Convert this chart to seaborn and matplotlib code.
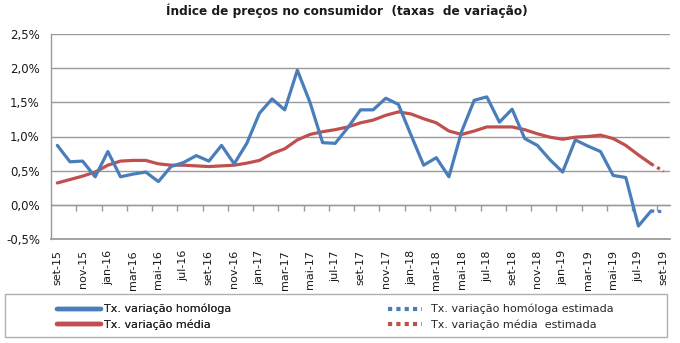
import matplotlib
matplotlib.use("Agg")
import matplotlib.pyplot as plt
import matplotlib.ticker as mticker
from matplotlib.lines import Line2D
from matplotlib.patches import Rectangle
import seaborn as sns
import pandas as pd
import numpy as np

# ---------------- data ----------------
months = ["set-15", "out-15", "nov-15", "dez-15",
          "jan-16", "fev-16", "mar-16", "abr-16", "mai-16", "jun-16",
          "jul-16", "ago-16", "set-16", "out-16", "nov-16", "dez-16",
          "jan-17", "fev-17", "mar-17", "abr-17", "mai-17", "jun-17",
          "jul-17", "ago-17", "set-17", "out-17", "nov-17", "dez-17",
          "jan-18", "fev-18", "mar-18", "abr-18", "mai-18", "jun-18",
          "jul-18", "ago-18", "set-18", "out-18", "nov-18", "dez-18",
          "jan-19", "fev-19", "mar-19", "abr-19", "mai-19", "jun-19",
          "jul-19", "ago-19", "set-19"]

# Tx. variação homóloga (set-15 .. ago-19)
homologa = [0.87, 0.63, 0.64, 0.41, 0.78, 0.41, 0.45, 0.48, 0.34, 0.56,
            0.62, 0.72, 0.64, 0.87, 0.60, 0.90, 1.34, 1.55, 1.39, 1.97,
            1.50, 0.91, 0.90, 1.13, 1.39, 1.39, 1.56, 1.47, 1.02, 0.58,
            0.69, 0.41, 1.07, 1.53, 1.58, 1.21, 1.40, 0.97, 0.87, 0.66,
            0.48, 0.95, 0.86, 0.78, 0.43, 0.40, -0.31, -0.09]

# Tx. variação média (set-15 .. ago-19)
media = [0.32, 0.37, 0.42, 0.48, 0.58, 0.64, 0.65, 0.65, 0.60, 0.58,
         0.58, 0.57, 0.56, 0.57, 0.58, 0.61, 0.65, 0.75, 0.82, 0.95,
         1.03, 1.07, 1.10, 1.14, 1.20, 1.24, 1.31, 1.36, 1.33, 1.26,
         1.20, 1.08, 1.03, 1.08, 1.14, 1.14, 1.14, 1.10, 1.04, 0.99,
         0.96, 0.99, 1.00, 1.02, 0.97, 0.87, 0.73, 0.60]

# estimated values (ago-19 .. set-19)
est_months = ["ago-19", "set-19"]
homologa_est = [-0.09, -0.10]
media_est = [0.60, 0.49]

title = "Índice de preços no consumidor  (taxas  de variação)"
labels = ["Tx. variação homóloga", "Tx. variação média",
          "Tx. variação homóloga estimada", "Tx. variação média  estimada"]
yticks = [-0.5, 0.0, 0.5, 1.0, 1.5, 2.0, 2.5]

# ---------------- style ----------------
BLUE = "#4a7ebb"
RED = "#c0504d"
GRID = "#9a9a9a"

sns.set_theme(style="white")
plt.rcParams["font.family"] = ["DejaVu Sans"]

pos = {m: i for i, m in enumerate(months)}
df = pd.DataFrame({"x": [pos[m] for m in months[:len(homologa)]],
                   "homologa": homologa, "media": media})
df_est = pd.DataFrame({"x": [pos[m] for m in est_months],
                       "homologa": homologa_est, "media": media_est})

fig = plt.figure(figsize=(6.8, 3.43), dpi=100)
ax = fig.add_axes([51 / 680, 1 - 239 / 343, (670 - 51) / 680, (239 - 34) / 343])

sns.lineplot(data=df, x="x", y="media", ax=ax, color=RED, lw=2.3,
             solid_capstyle="round", zorder=3)
sns.lineplot(data=df, x="x", y="homologa", ax=ax, color=BLUE, lw=2.3,
             solid_capstyle="round", zorder=4)
sns.lineplot(data=df_est, x="x", y="media", ax=ax, color=RED, lw=2.3,
             linestyle=(0, (1, 1.2)), dash_capstyle="butt", zorder=3)
sns.lineplot(data=df_est, x="x", y="homologa", ax=ax, color=BLUE, lw=2.3,
             linestyle=(0, (1, 1.2)), dash_capstyle="butt", zorder=4)

n = len(months)
ymin, ymax = yticks[0], yticks[-1]
ax.set_xlim(-0.5, n - 0.5)
ax.set_ylim(ymin, ymax)
ax.set_xlabel("")
ax.set_ylabel("")

ax.set_yticks(yticks)
ax.yaxis.set_major_formatter(mticker.FuncFormatter(
    lambda v, p: f"{v:.1f}%".replace(".", ",")))
ax.grid(axis="y", color=GRID, lw=1)
ax.set_axisbelow(True)

ax.set_xticks(range(0, n, 2))
ax.set_xticklabels(months[::2], rotation=90)
ax.tick_params(axis="x", length=0, pad=8, labelsize=8, colors="#1a1a1a")
ax.tick_params(axis="y", length=4, width=1, color=GRID, direction="out",
               pad=4, labelsize=8.5, colors="#1a1a1a")

for s in ["top", "right"]:
    ax.spines[s].set_visible(False)
ax.spines["left"].set_color(GRID)
ax.spines["bottom"].set_color(GRID)
ax.spines["left"].set_linewidth(1)

# category axis at 0 % with tick marks between category pairs
loc0 = (0 - ymin) / (ymax - ymin)
sec = ax.secondary_xaxis(loc0)
sec.set_xticks([k - 0.5 for k in range(2, n, 2)])
sec.tick_params(axis="x", direction="out", length=4, width=1, color=GRID,
                labelbottom=False, labeltop=False, bottom=True, top=False)
sec.spines["bottom"].set_color(GRID)
sec.spines["bottom"].set_linewidth(1)
sec.spines["top"].set_visible(False)

fig.text(347 / 680, 1 - 11 / 343, title, ha="center", va="center",
         fontsize=8.7, fontweight="bold", color="#1a1a1a")

# legend
fig.patches.append(Rectangle((5 / 680, 1 - 337 / 343), 662 / 680, 43 / 343,
                             transform=fig.transFigure, fill=False,
                             edgecolor="#b0b0b0", lw=1))
h1 = [Line2D([], [], color=BLUE, lw=3.2), Line2D([], [], color=RED, lw=3.2)]
h2 = [Line2D([], [], color=BLUE, lw=3, linestyle=(0, (1, 1)), dash_capstyle="butt"),
      Line2D([], [], color=RED, lw=3, linestyle=(0, (1, 1)), dash_capstyle="butt")]
leg1 = fig.legend(h1, labels[:2], loc="center left",
                  bbox_to_anchor=(57 / 680, 1 - 317 / 343), frameon=False,
                  fontsize=8, handlelength=4.0, handletextpad=0.25,
                  labelspacing=0.45, borderpad=0, borderaxespad=0)
leg2 = fig.legend(h2, labels[2:], loc="center left",
                  bbox_to_anchor=(388 / 680, 1 - 317 / 343), frameon=False,
                  fontsize=8, handlelength=3.1, handletextpad=0.8,
                  labelspacing=0.45, borderpad=0, borderaxespad=0)
fig.add_artist(leg1)

fig.savefig("out.png", dpi=100)
